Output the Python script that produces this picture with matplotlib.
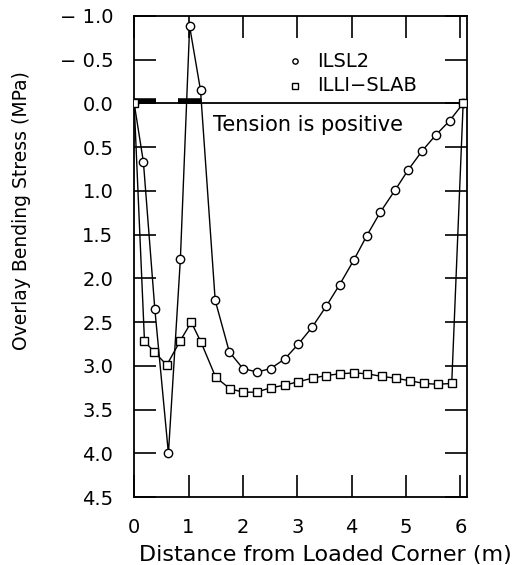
import numpy as np
import matplotlib.pyplot as plt

# distance from loaded corner (m) and overlay bending stress (MPa)
ilsl2_x = [0, 0.17, 0.38, 0.63, 0.85, 1.02, 1.22, 1.49, 1.75, 2.0, 2.26, 2.51, 2.77,
           3.02, 3.27, 3.53, 3.78, 4.04, 4.28, 4.53, 4.8, 5.04, 5.3, 5.55, 5.8, 6.05]
ilsl2_y = [0, 0.67, 2.35, 4.0, 1.78, -0.88, -0.15, 2.25, 2.84, 3.03, 3.07, 3.03, 2.92,
           2.75, 2.56, 2.32, 2.07, 1.79, 1.51, 1.24, 0.99, 0.76, 0.54, 0.36, 0.2, 0.0]

illi_x = [0, 0.19, 0.37, 0.6, 0.85, 1.05, 1.23, 1.5, 1.76, 2.0, 2.25, 2.51, 2.77,
          3.02, 3.28, 3.53, 3.78, 4.04, 4.29, 4.55, 4.81, 5.07, 5.33, 5.58, 5.84, 6.05]
illi_y = [0, 2.72, 2.84, 2.99, 2.71, 2.5, 2.73, 3.13, 3.26, 3.3, 3.3, 3.25, 3.22,
          3.18, 3.14, 3.11, 3.09, 3.08, 3.09, 3.12, 3.14, 3.17, 3.2, 3.21, 3.2, 0.0]

# loaded zones drawn as thick bars on the zero line
load_zones = [(0.0, 0.4), (0.8, 1.22)]

yticks = [-1.0, -0.5, 0.0, 0.5, 1.0, 1.5, 2.0, 2.5, 3.0, 3.5, 4.0, 4.5]
ytick_labels = ['\u2212 1.0', '\u2212 0.5', '0.0', '0.5', '1.0', '1.5', '2.0',
                '2.5', '3.0', '3.5', '4.0', '4.5']
xticks = [0, 1, 2, 3, 4, 5, 6]

plt.rcParams['font.family'] = 'DejaVu Sans'

fig = plt.figure(figsize=(5.2, 5.65), dpi=100)
ax = fig.add_axes([0.258, 0.12, 0.64, 0.852])

ax.axhline(0, color='black', lw=1.3, zorder=1)
for x0, x1 in load_zones:
    ax.plot([x0, x1], [-0.03, -0.03], color='black', lw=4, solid_capstyle='butt', zorder=2)

ax.plot(ilsl2_x, ilsl2_y, color='black', lw=1.0, marker='o', ms=6, mfc='white',
        mec='black', mew=1.0, zorder=3)
ax.plot(illi_x, illi_y, color='black', lw=1.0, marker='s', ms=5.5, mfc='white',
        mec='black', mew=1.0, zorder=3)

# legend-like labels
ax.plot([2.96], [-0.48], marker='o', ms=3.8, mfc='white', mec='black', mew=1.0, ls='none')
ax.plot([2.96], [-0.2], marker='s', ms=3.8, mfc='white', mec='black', mew=1.0, ls='none')
ax.text(3.36, -0.48, 'ILSL2', fontsize=14, va='center', ha='left')
ax.text(3.36, -0.2, 'ILLI\u2212SLAB', fontsize=14, va='center', ha='left')
ax.text(1.45, 0.25, 'Tension is positive', fontsize=15, va='center', ha='left')

ax.set_xlim(0, 6.12)
ax.set_ylim(4.5, -1.0)
ax.set_yticks(yticks)
ax.set_yticklabels(ytick_labels)
ax.set_xticks(xticks)
ax.tick_params(axis='both', direction='in', length=16, width=1.2, labelsize=14,
               top=True, right=True, pad=15)
for s in ax.spines.values():
    s.set_linewidth(1.3)

ax.set_xlabel('Distance from Loaded Corner (m)', fontsize=16)
ax.xaxis.set_label_coords(0.575, -0.1)
ax.set_ylabel('Overlay Bending Stress (MPa)', fontsize=13.5)
ax.yaxis.set_label_coords(-0.31, 0.595)

fig.savefig('out.png', dpi=100)
